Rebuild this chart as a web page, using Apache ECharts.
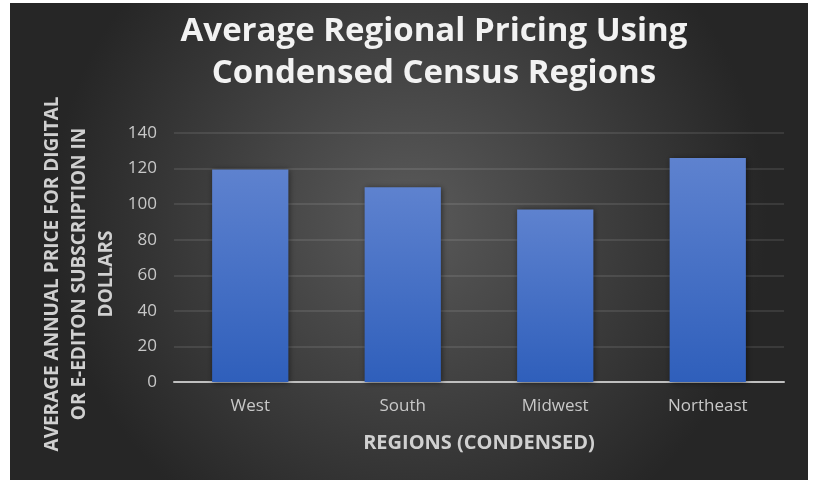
<!DOCTYPE html>
<html>
<head>
<meta charset="utf-8">
<script src="https://cdn.jsdelivr.net/npm/echarts@6/dist/echarts.min.js"></script>
<style>
  html, body { margin: 0; padding: 0; background: #ffffff; width: 813px; height: 480px; overflow: hidden; }
  #chart { position: absolute; left: 10px; top: 3px; width: 798px; height: 477px; }
</style>
</head>
<body>
<div id="chart"></div>
<script>
const titleLines = ['Average Regional Pricing Using', 'Condensed Census Regions'];
const categories = ['West', 'South', 'Midwest', 'Northeast'];
const prices = [119.5, 109.5, 97, 126];
const yTicks = { min: 0, max: 140, interval: 20 };
const xAxisTitle = 'REGIONS (CONDENSED)';
const yAxisTitleLines = ['AVERAGE ANNUAL PRICE FOR DIGITAL', 'OR E-EDITON SUBSCRIPTION IN', 'DOLLARS'];

const chart = echarts.init(document.getElementById('chart'), null, { renderer: 'canvas' });
chart.setOption({
  animation: false,
  backgroundColor: {
    type: 'radial', x: 0.5, y: 0.45, r: 0.75,
    colorStops: [
      { offset: 0, color: '#5a5a5a' },
      { offset: 1, color: '#262626' }
    ]
  },
  grid: { left: 164, right: 24, top: 130, bottom: 98 },
  xAxis: {
    type: 'category',
    data: categories,
    name: xAxisTitle,
    nameLocation: 'middle',
    nameGap: 51,
    nameTextStyle: { fontFamily: 'Open Sans', fontWeight: 'bold', fontSize: 20, color: '#d0d0d0' },
    axisLine: { lineStyle: { color: '#bfbfbf', width: 2 } },
    axisTick: { show: false },
    axisLabel: { fontFamily: 'Open Sans', fontSize: 17, color: '#c8c8c8', margin: 16 }
  },
  yAxis: {
    type: 'value',
    min: yTicks.min, max: yTicks.max, interval: yTicks.interval,
    axisLine: { show: false },
    axisTick: { show: false },
    splitLine: { lineStyle: { color: 'rgba(255,255,255,0.13)', width: 1.5 } },
    axisLabel: { fontFamily: 'Open Sans', fontSize: 17, color: '#c8c8c8', margin: 17 }
  },
  graphic: [{
    type: 'text',
    x: 424, y: 50,
    style: {
      text: titleLines.join('\n'),
      fontFamily: 'Open Sans', fontWeight: 'bold', fontSize: 33, lineHeight: 42,
      fill: '#f2f2f2', align: 'center', verticalAlign: 'middle',
      shadowColor: 'rgba(0,0,0,0.8)', shadowBlur: 4, shadowOffsetX: 2, shadowOffsetY: 2
    }
  }, {
    type: 'text',
    x: 70, y: 271,
    rotation: Math.PI / 2,
    style: {
      text: yAxisTitleLines.join('\n'),
      fontFamily: 'Open Sans', fontWeight: 'bold', fontSize: 19, lineHeight: 27,
      fill: '#d0d0d0', align: 'center', verticalAlign: 'middle'
    }
  }],
  series: [{
    type: 'bar',
    data: prices,
    barWidth: '50%',
    itemStyle: {
      color: {
        type: 'linear', x: 0, y: 0, x2: 0, y2: 1,
        colorStops: [
          { offset: 0, color: '#5e82cf' },
          { offset: 1, color: '#2f5fbb' }
        ]
      },
      shadowColor: 'rgba(0,0,0,0.5)',
      shadowBlur: 6,
      shadowOffsetX: 1,
      shadowOffsetY: 1
    }
  }]
});
</script>
</body>
</html>
